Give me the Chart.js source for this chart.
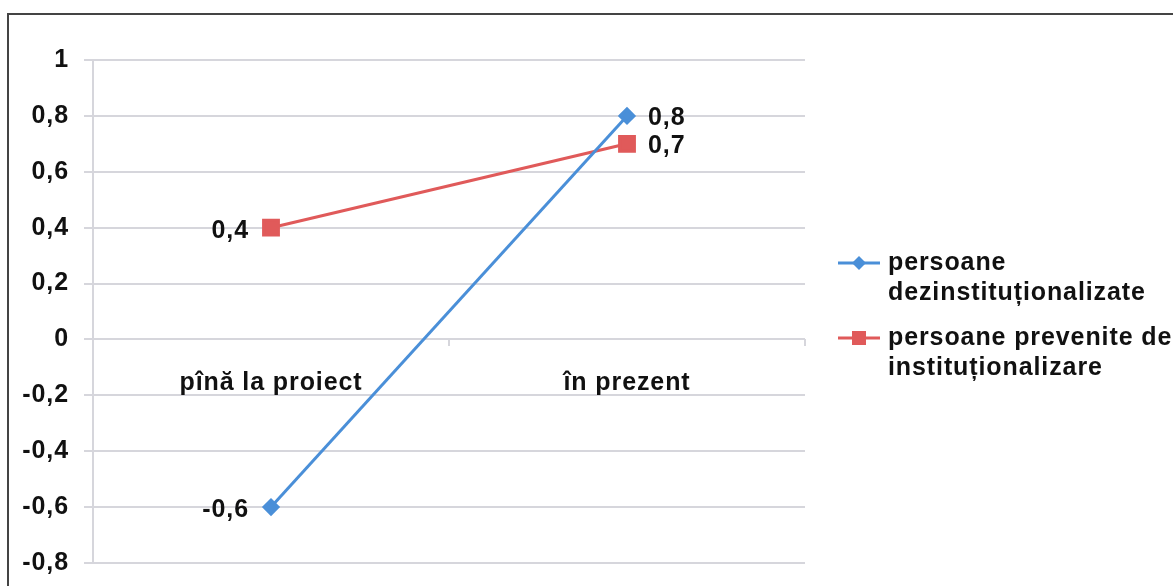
<!DOCTYPE html>
<html>
<head>
<meta charset="utf-8">
<script src="https://cdn.jsdelivr.net/npm/chart.js@4/dist/chart.umd.min.js"></script>
<style>
  html, body { margin: 0; padding: 0; background: #fff; }
  canvas { display: block; }
</style>
</head>
<body>
<canvas id="c" width="1173" height="586"></canvas>
<script>
// Categories and series
const categories = ['pînă la proiect', 'în prezent'];
const seriesNames = [
  ['persoane', 'dezinstituționalizate'],
  ['persoane prevenite de', 'instituționalizare']
];
const dezinstValues = [-0.6, 0.8];
const prevenValues = [0.4, 0.7];
const yTickValues = [-0.8, -0.6, -0.4, -0.2, 0, 0.2, 0.4, 0.6, 0.8, 1];

const BLUE = '#4A8FD8';
const RED = '#E05A5A';
const TEXT = '#111111';
const GRID = '#d6d6dc';
const FONT = '"Liberation Sans", Arial, sans-serif';
const FONT_SIZE = 25;
const SPACING = '0.9px';

const fmt = v => String(Math.round(v * 10) / 10).replace('.', ',');

// Slightly spaced lettering for all canvas text
const spacingPlugin = {
  id: 'spacing',
  beforeLayout(chart) { chart.ctx.letterSpacing = SPACING; },
  beforeDraw(chart) { chart.ctx.letterSpacing = SPACING; }
};

// Outer frame (top and left edges visible)
const framePlugin = {
  id: 'frame',
  beforeDraw(chart) {
    const ctx = chart.ctx;
    ctx.save();
    ctx.strokeStyle = '#444';
    ctx.lineWidth = 2;
    ctx.beginPath();
    ctx.moveTo(8, 600);
    ctx.lineTo(8, 14);
    ctx.lineTo(1180, 14);
    ctx.stroke();
    ctx.restore();
  }
};

// Value labels next to each point
const valueLabels = {
  id: 'valueLabels',
  afterDatasetsDraw(chart) {
    const ctx = chart.ctx;
    ctx.save();
    ctx.letterSpacing = SPACING;
    ctx.font = 'bold ' + FONT_SIZE + 'px ' + FONT;
    ctx.fillStyle = TEXT;
    ctx.textBaseline = 'middle';
    chart.data.datasets.forEach((ds, di) => {
      chart.getDatasetMeta(di).data.forEach((pt, i) => {
        const txt = fmt(ds.data[i]);
        if (i === 0) {
          ctx.textAlign = 'right';
          ctx.fillText(txt, pt.x - 22, pt.y + 3);
        } else {
          ctx.textAlign = 'left';
          ctx.fillText(txt, pt.x + 21, pt.y + 2);
        }
      });
    });
    ctx.restore();
  }
};

// Legend on the right with wrapped labels
const sideLegend = {
  id: 'sideLegend',
  afterDraw(chart) {
    const ctx = chart.ctx;
    const x0 = 838, x1 = 880, tx = 888;
    const rows = [263, 338];
    ctx.save();
    ctx.letterSpacing = SPACING;
    chart.data.datasets.forEach((ds, di) => {
      const y = rows[di];
      ctx.strokeStyle = ds.borderColor;
      ctx.lineWidth = 3;
      ctx.beginPath();
      ctx.moveTo(x0, y);
      ctx.lineTo(x1, y);
      ctx.stroke();
      ctx.fillStyle = ds.borderColor;
      const cx = (x0 + x1) / 2;
      if (ds.pointStyle === 'rectRot') {
        ctx.beginPath();
        ctx.moveTo(cx, y - 7);
        ctx.lineTo(cx + 7, y);
        ctx.lineTo(cx, y + 7);
        ctx.lineTo(cx - 7, y);
        ctx.closePath();
        ctx.fill();
      } else {
        ctx.fillRect(cx - 7, y - 7, 14, 14);
      }
      ctx.fillStyle = TEXT;
      ctx.font = 'bold ' + FONT_SIZE + 'px ' + FONT;
      ctx.textAlign = 'left';
      ctx.textBaseline = 'middle';
      seriesNames[di].forEach((line, li) => {
        ctx.fillText(line, tx, y + li * 30);
      });
    });
    ctx.restore();
  }
};

new Chart(document.getElementById('c'), {
  type: 'line',
  data: {
    labels: categories,
    datasets: [
      {
        label: seriesNames[0].join(' '),
        data: dezinstValues,
        borderColor: BLUE,
        backgroundColor: BLUE,
        borderWidth: 3,
        pointStyle: 'rectRot',
        pointRadius: 7,
        pointHoverRadius: 7,
        tension: 0
      },
      {
        label: seriesNames[1].join(' '),
        data: prevenValues,
        borderColor: RED,
        backgroundColor: RED,
        borderWidth: 3,
        pointStyle: 'rect',
        pointRadius: 10.5,
        pointHoverRadius: 10.5,
        tension: 0
      }
    ]
  },
  options: {
    responsive: false,
    animation: false,
    devicePixelRatio: 1,
    layout: { padding: { left: 0, top: 60, right: 368, bottom: 23 } },
    plugins: {
      legend: { display: false },
      tooltip: { enabled: false }
    },
    scales: {
      x: {
        type: 'category',
        position: { y: 0 },
        offset: true,
        grid: {
          offset: true,
          drawOnChartArea: false,
          drawTicks: true,
          tickLength: 7,
          color: GRID,
          lineWidth: 2
        },
        border: { display: false },
        ticks: {
          color: TEXT,
          padding: 22,
          font: { family: FONT, size: FONT_SIZE, weight: 'bold' }
        }
      },
      y: {
        position: 'left',
        min: -0.8,
        max: 1,
        afterBuildTicks(scale) {
          scale.ticks = yTickValues.map(v => ({ value: v }));
        },
        afterFit(scale) {
          scale.width = 93;
          scale.paddingTop = 0;
          scale.paddingBottom = 0;
        },
        grid: {
          color: GRID,
          lineWidth: 2,
          tickLength: 9
        },
        border: { display: true, color: GRID, width: 2 },
        ticks: {
          color: TEXT,
          padding: 15,
          font: { family: FONT, size: FONT_SIZE, weight: 'bold' },
          callback: v => fmt(v)
        }
      }
    }
  },
  plugins: [spacingPlugin, framePlugin, valueLabels, sideLegend]
});
</script>
</body>
</html>
